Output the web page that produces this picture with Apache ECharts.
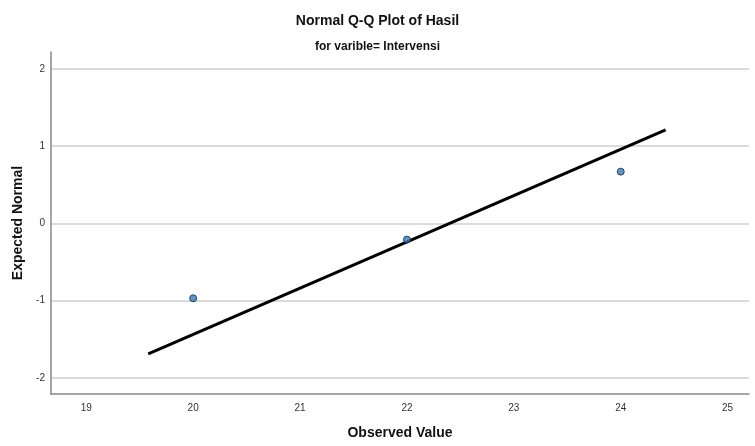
<!DOCTYPE html>
<html>
<head>
<meta charset="utf-8">
<script src="https://cdn.jsdelivr.net/npm/echarts@6/dist/echarts.min.js"></script>
<style>html,body{margin:0;padding:0;background:#fff}#c{width:755px;height:446px}</style>
</head>
<body>
<div id="c"></div>
<script>
var observed = [20, 22, 24];
var expected = [-0.97, -0.21, 0.67];
var lineX = [19.58, 24.42];
var lineY = [-1.69, 1.21];
var xTicks = [19, 20, 21, 22, 23, 24, 25];
var yTicks = [-2, -1, 0, 1, 2];

var chart = echarts.init(document.getElementById('c'));
chart.setOption({
  animation: false,
  backgroundColor: '#fff',
  title: [
    {text: 'Normal Q-Q Plot of Hasil', left: 'center', top: 9,
     textStyle: {fontFamily: 'Liberation Sans, Arial', fontSize: 14, fontWeight: 'bold', color: '#111'}},
    {text: 'for varible= Intervensi', left: 'center', top: 36,
     textStyle: {fontFamily: 'Liberation Sans, Arial', fontSize: 12, fontWeight: 'bold', color: '#111'}}
  ],
  grid: {left: 51, right: 6, top: 52, bottom: 52, outerBoundsMode: 'none', containLabel: false},
  xAxis: {
    type: 'value', min: 18.67, max: 25.2,
    name: 'Observed Value', nameLocation: 'middle', nameGap: 32,
    nameTextStyle: {fontFamily: 'Liberation Sans, Arial', fontSize: 14, fontWeight: 'bold', color: '#111'},
    axisLine: {show: true, onZero: false, lineStyle: {color: '#888', width: 1.5}},
    axisTick: {show: false, customValues: xTicks},
    axisLabel: {customValues: xTicks, color: '#333', fontSize: 10, margin: 9, fontFamily: 'Liberation Sans, Arial'},
    splitLine: {show: false}
  },
  yAxis: {
    type: 'value', min: -2.21, max: 2.22,
    name: 'Expected Normal', nameLocation: 'middle', nameGap: 26,
    nameTextStyle: {fontFamily: 'Liberation Sans, Arial', fontSize: 14, fontWeight: 'bold', color: '#111'},
    axisLine: {show: true, onZero: false, lineStyle: {color: '#888', width: 1.5}},
    axisTick: {show: false, customValues: yTicks},
    axisLabel: {customValues: yTicks, color: '#333', fontSize: 10, margin: 6, fontFamily: 'Liberation Sans, Arial'},
    splitLine: {show: true, lineStyle: {color: '#cfcfcf', width: 1.5}}
  },
  series: [
    {type: 'line', data: lineX.map(function (x, i) { return [x, lineY[i]]; }),
     symbol: 'none', lineStyle: {color: '#000', width: 3}, z: 2},
    {type: 'scatter', data: observed.map(function (x, i) { return [x, expected[i]]; }),
     symbolSize: 7, itemStyle: {color: '#2f78c4', borderColor: '#1a2a40', borderWidth: 1}, z: 3}
  ]
});
</script>
</body>
</html>
